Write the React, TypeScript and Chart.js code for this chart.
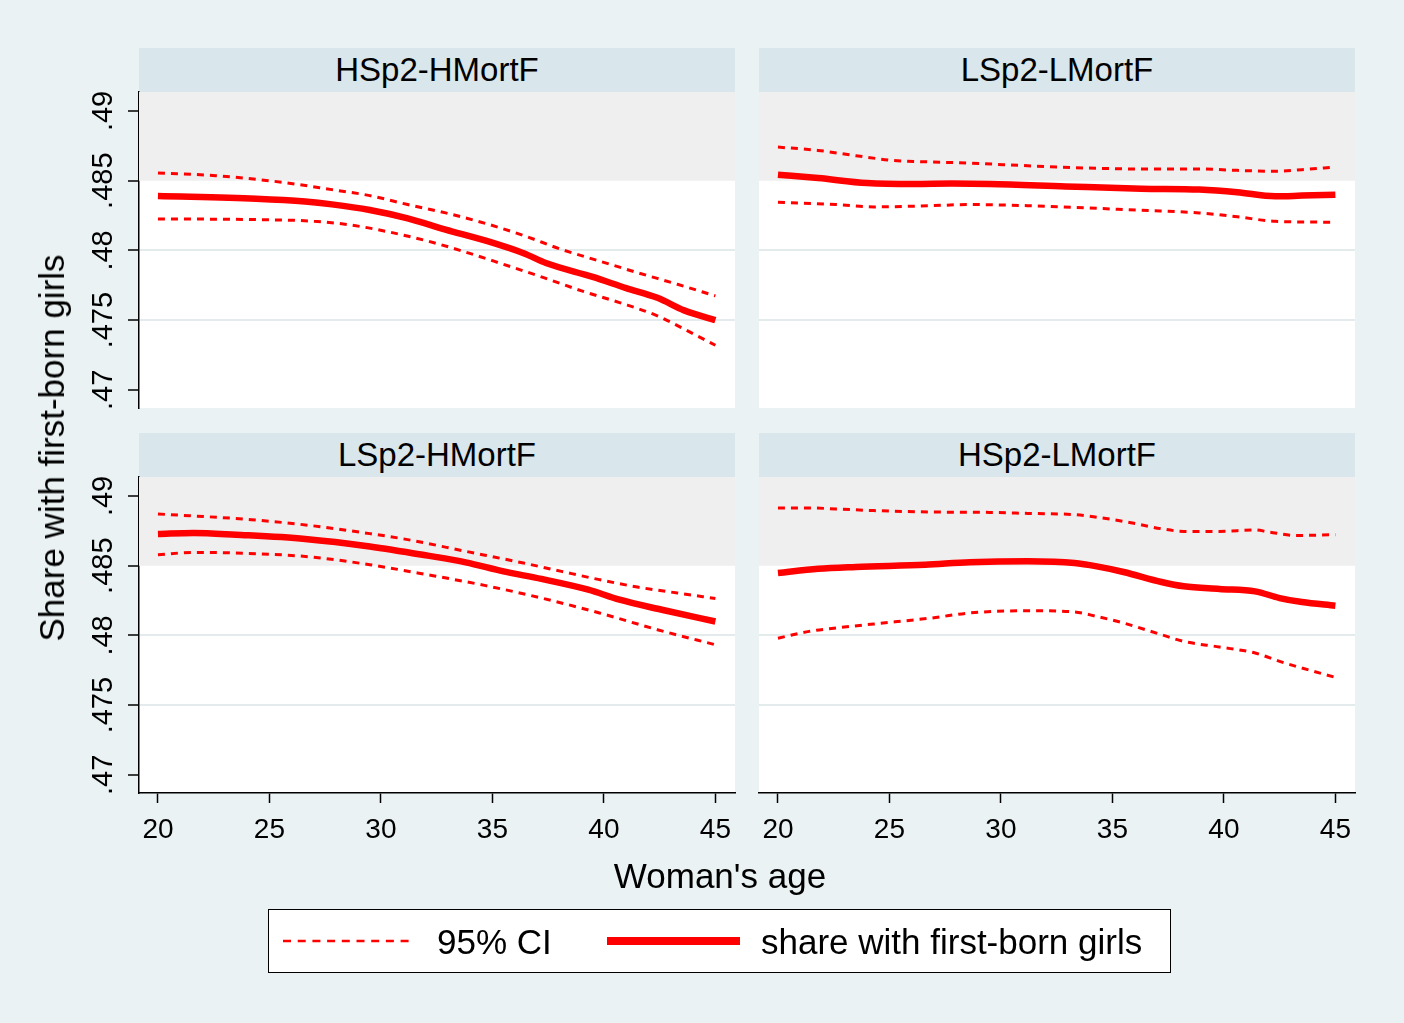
import React, { useEffect, useRef } from "react";
import { Chart, registerables } from "chart.js";
Chart.register(...registerables);

const FONT = "'Liberation Sans', Arial, Helvetica, sans-serif";

// ---------- data (ages and values) ----------
const xTicks = [20, 25, 30, 35, 40, 45];
const xTickLabels = ["20", "25", "30", "35", "40", "45"];
const yTicks = [0.47, 0.475, 0.48, 0.485, 0.49];
const yTickLabels = [".47", ".475", ".48", ".485", ".49"];
const yGridAt = [0.475, 0.48];
const bandFrom = 0.485;
const xMin = 19.15, xMax = 45.88;
const yMin = 0.4687, yMax = 0.49136;

const panelTitles = ["HSp2-HMortF", "LSp2-LMortF", "LSp2-HMortF", "HSp2-LMortF"];

// HSp2-HMortF
const tlMidAge = [20, 24.4, 26.6, 27.8, 29.5, 31.2, 32.9, 34.7, 36.4, 37.4, 39.5, 41.0, 42.4, 43.6, 45];
const tlMid = [0.4839, 0.4837, 0.4835, 0.4833, 0.4829, 0.4823, 0.4815, 0.4807, 0.4798, 0.4791, 0.4781, 0.4773, 0.4766, 0.4757, 0.4750];
const tlHiAge = [20, 22.6, 25.6, 27.8, 29.5, 31.2, 32.9, 34.7, 36.4, 38.1, 39.8, 41.5, 43.3, 45];
const tlHi = [0.48555, 0.48536, 0.48488, 0.48436, 0.48393, 0.48329, 0.48269, 0.48193, 0.48107, 0.48007, 0.47924, 0.47841, 0.47757, 0.47674];
const tlLoAge = [20, 24.4, 27.0, 28.7, 30.4, 32.1, 33.8, 35.5, 37.3, 39.0, 40.7, 42.4, 43.6, 45];
const tlLo = [0.48226, 0.48221, 0.48209, 0.48181, 0.48131, 0.48067, 0.47988, 0.479, 0.47805, 0.4771, 0.47626, 0.47531, 0.47436, 0.4732];

// LSp2-LMortF
const trMidAge = [20, 21.8, 24.0, 26.1, 27.8, 29.5, 32.9, 36.3, 38.9, 40.6, 42.3, 43.5, 45];
const trMid = [0.48543, 0.48519, 0.48483, 0.48476, 0.48479, 0.48476, 0.48459, 0.48443, 0.48436, 0.48417, 0.48388, 0.48393, 0.484];
const trHiAge = [20, 21.8, 23.5, 25.2, 26.9, 28.6, 31.2, 33.8, 36.3, 38.9, 40.6, 42.3, 43.5, 45];
const trHi = [0.48741, 0.48717, 0.48679, 0.48645, 0.48634, 0.48626, 0.48607, 0.48591, 0.48584, 0.48584, 0.48574, 0.48567, 0.48579, 0.48598];
const trLoAge = [20, 22.6, 24.3, 26.9, 28.6, 31.2, 33.8, 36.3, 38.9, 40.6, 42.3, 45];
const trLo = [0.48345, 0.48329, 0.48312, 0.48321, 0.48329, 0.48321, 0.48305, 0.48288, 0.48269, 0.48241, 0.48209, 0.48202];

// LSp2-HMortF
const blMidAge = [20, 21.6, 23.5, 26.6, 29.5, 32.1, 33.8, 35.5, 37.2, 39.3, 40.7, 42.6, 45];
const blMid = [0.48727, 0.48735, 0.48722, 0.48692, 0.48638, 0.48572, 0.48524, 0.48459, 0.48405, 0.48328, 0.48256, 0.48184, 0.481];
const blHiAge = [20, 24.2, 26.9, 29.5, 31.2, 33.8, 36.4, 38.1, 39.8, 41.5, 43.3, 45];
const blHi = [0.48871, 0.4883, 0.48787, 0.4873, 0.48687, 0.48603, 0.48519, 0.48459, 0.484, 0.48347, 0.48304, 0.48265];
const blLoAge = [20, 21.6, 24.4, 26.9, 29.5, 32.1, 34.7, 37.2, 39.8, 42.4, 45];
const blLo = [0.48579, 0.48595, 0.48586, 0.48562, 0.48507, 0.48435, 0.48357, 0.48268, 0.48161, 0.48041, 0.47933];

// HSp2-LMortF
const brMidAge = [20, 21.8, 23.5, 26.6, 28.6, 31.2, 33.3, 34.3, 35.5, 37.2, 38.2, 39.8, 41.4, 42.5, 43.5, 45];
const brMid = [0.48448, 0.48478, 0.48491, 0.48507, 0.48524, 0.48531, 0.48519, 0.48495, 0.48455, 0.48383, 0.48352, 0.48333, 0.48316, 0.48268, 0.48239, 0.48213];
const brHiAge = [20, 21.4, 22.6, 24.3, 26.9, 29.5, 31.2, 33.3, 34.3, 35.5, 37.2, 38.2, 39.8, 41.4, 42.0, 43.2, 45];
const brHi = [0.48914, 0.48914, 0.48907, 0.48895, 0.48885, 0.48882, 0.48875, 0.48866, 0.48847, 0.48818, 0.48765, 0.48746, 0.48746, 0.48756, 0.48742, 0.48717, 0.48722];
const brLoAge = [20, 21.4, 22.6, 24.3, 26.9, 28.6, 31.2, 33.3, 34.3, 35.5, 37.2, 38.2, 39.8, 41.4, 42.5, 43.5, 45];
const brLo = [0.4798, 0.48029, 0.48053, 0.48082, 0.48125, 0.48161, 0.48177, 0.48168, 0.48136, 0.48089, 0.48005, 0.47957, 0.47917, 0.47874, 0.47814, 0.47766, 0.47699];

// ---------- styling / layout ----------
const BG = "#eaf2f3";
const HEADER = "#d9e6eb";
const BAND = "#efefef";
const RED = "#ff0000";
const PLOT_W = 596, PLOT_H = 316;
const PAD_L = 100, PAD_R = 20, PAD_T = 30, PAD_B = 80;
const Y_W = 50, X_H = 60;

const zip = (a: number[], b: number[]) => a.map((x, i) => ({ x, y: b[i] }));

const plotBg = {
  id: "plotBg",
  beforeDraw(chart: any) {
    const { ctx, chartArea: a } = chart;
    ctx.save();
    ctx.fillStyle = "#ffffff";
    ctx.fillRect(a.left, a.top, a.right - a.left, a.bottom - a.top);
    ctx.restore();
  },
};

type PanelProps = {
  left: number; top: number; showX: boolean; showY: boolean;
  midAge: number[]; mid: number[]; hiAge: number[]; hi: number[]; loAge: number[]; lo: number[];
};

function Panel(p: PanelProps) {
  const ref = useRef<HTMLCanvasElement | null>(null);
  const W = PAD_L + PLOT_W + PAD_R;
  const H = PAD_T + PLOT_H + PAD_B;
  useEffect(() => {
    const yw = p.showY ? Y_W : 0;
    const xh = p.showX ? X_H : 0;
    const lineBase = { pointRadius: 0, cubicInterpolationMode: "monotone", fill: false, borderColor: RED };
    const chart = new Chart(ref.current as HTMLCanvasElement, {
      type: "line",
      data: {
        datasets: [
          { ...lineBase, data: zip(p.midAge, p.mid), borderWidth: 6.5, order: 0 },
          { ...lineBase, data: zip(p.hiAge, p.hi), borderWidth: 3, borderDash: [7, 6], order: 1 },
          { ...lineBase, data: zip(p.loAge, p.lo), borderWidth: 3, borderDash: [7, 6], order: 1 },
          {
            data: [{ x: xMin, y: bandFrom }, { x: xMax, y: bandFrom }],
            borderWidth: 0, borderColor: "rgba(0,0,0,0)", backgroundColor: BAND,
            pointRadius: 0, fill: "end", order: 10,
          },
        ],
      },
      options: {
        animation: false,
        responsive: false,
        maintainAspectRatio: false,
        events: [],
        layout: { padding: { left: PAD_L - yw, right: PAD_R, top: PAD_T, bottom: PAD_B - xh } },
        plugins: { legend: { display: false }, tooltip: { enabled: false }, title: { display: false } },
        scales: {
          x: {
            type: "linear", min: xMin, max: xMax, display: p.showX,
            afterBuildTicks: (s: any) => { s.ticks = xTicks.map((v) => ({ value: v })); },
            afterFit: (s: any) => { s.height = xh; s.paddingLeft = 0; s.paddingRight = 0; },
            grid: { drawOnChartArea: false, color: "rgba(0,0,0,0)", tickColor: "#000", tickLength: 10, tickWidth: 1.5 },
            border: { display: true, color: "#000", width: 1.5 },
            ticks: {
              color: "#000", font: { family: FONT, size: 28 }, padding: 10, maxRotation: 0, minRotation: 0,
              callback: (_v: any, i: number) => xTickLabels[i],
            },
          },
          y: {
            type: "linear", min: yMin, max: yMax, display: true,
            afterBuildTicks: (s: any) => { s.ticks = yTicks.map((v) => ({ value: v })); },
            afterFit: (s: any) => { s.width = yw; s.paddingTop = 0; s.paddingBottom = 0; },
            grid: {
              drawTicks: p.showY,
              tickLength: 11,
              tickColor: "#000",
              tickWidth: 1.5,
              lineWidth: 2,
              color: (c: any) =>
                yGridAt.some((g) => Math.abs(g - c.tick.value) < 1e-6) ? "#e3ebed" : "rgba(0,0,0,0)",
            },
            border: { display: p.showY, color: "#000", width: 1.5 },
            ticks: {
              display: p.showY, color: "#000", font: { family: FONT, size: 29 },
              minRotation: 90, maxRotation: 90, crossAlign: "center", padding: -4,
              callback: (_v: any, i: number) => yTickLabels[i],
            },
          },
        },
      },
      plugins: [plotBg],
    } as any);
    return () => chart.destroy();
  }, []);
  return (
    <canvas
      ref={ref}
      width={W}
      height={H}
      style={{ position: "absolute", left: p.left - PAD_L, top: p.top - PAD_T, width: W, height: H }}
    />
  );
}

const panelPos = [
  { left: 139, top: 92 },
  { left: 759, top: 92 },
  { left: 139, top: 477 },
  { left: 759, top: 477 },
];

export default function App() {
  const headerH = 44;
  return (
    <div style={{ position: "absolute", left: 0, top: 0, width: 1404, height: 1023, background: BG, fontFamily: FONT, overflow: "hidden" }}>
      {panelPos.map((pp, i) => (
        <div
          key={i}
          style={{
            position: "absolute", left: pp.left, top: pp.top - headerH, width: PLOT_W, height: headerH,
            background: HEADER, color: "#000", fontSize: 33, lineHeight: headerH + "px", textAlign: "center",
          }}
        >
          {panelTitles[i]}
        </div>
      ))}
      <Panel left={139} top={92} showX={false} showY={true} midAge={tlMidAge} mid={tlMid} hiAge={tlHiAge} hi={tlHi} loAge={tlLoAge} lo={tlLo} />
      <Panel left={759} top={92} showX={false} showY={false} midAge={trMidAge} mid={trMid} hiAge={trHiAge} hi={trHi} loAge={trLoAge} lo={trLo} />
      <Panel left={139} top={477} showX={true} showY={true} midAge={blMidAge} mid={blMid} hiAge={blHiAge} hi={blHi} loAge={blLoAge} lo={blLo} />
      <Panel left={759} top={477} showX={true} showY={false} midAge={brMidAge} mid={brMid} hiAge={brHiAge} hi={brHi} loAge={brLoAge} lo={brLo} />

      <div
        style={{
          position: "absolute", left: 52, top: 448, transform: "translate(-50%, -50%) rotate(-90deg)",
          whiteSpace: "nowrap", fontSize: 35, color: "#000",
        }}
      >
        Share with first-born girls
      </div>
      <div
        style={{
          position: "absolute", left: 720, top: 876, transform: "translate(-50%, -50%)",
          whiteSpace: "nowrap", fontSize: 35, color: "#000",
        }}
      >
        Woman's age
      </div>

      <div
        style={{
          position: "absolute", left: 268, top: 909, width: 903, height: 64, boxSizing: "border-box",
          background: "#fff", border: "1.5px solid #000",
        }}
      />
      <svg width={1404} height={1023} style={{ position: "absolute", left: 0, top: 0 }}>
        <line x1={283} y1={941} x2={415} y2={941} stroke={RED} strokeWidth={2.5} strokeDasharray="8 6.7" />
        <line x1={607} y1={941} x2={740} y2={941} stroke={RED} strokeWidth={8} />
      </svg>
      <div style={{ position: "absolute", left: 437, top: 942, transform: "translateY(-50%)", fontSize: 35, whiteSpace: "nowrap" }}>
        95% CI
      </div>
      <div style={{ position: "absolute", left: 761, top: 942, transform: "translateY(-50%)", fontSize: 35, whiteSpace: "nowrap" }}>
        share with first-born girls
      </div>
    </div>
  );
}
